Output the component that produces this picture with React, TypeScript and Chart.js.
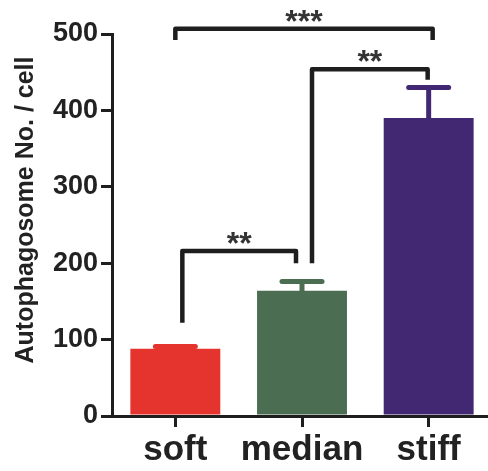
import React, { useEffect, useRef } from "react";
import { Chart, registerables } from "chart.js";

Chart.register(...registerables);

const categories = ["soft", "median", "stiff"];
const means = [88, 164, 390];
const errors = [3, 12, 40];
const barColors = ["#e5332e", "#4b6e53", "#422873"];
const yTicks = [0, 100, 200, 300, 400, 500];
const yTitle = "Autophagosome No. / cell";

const bracketFrom = [0, 1, 0];
const bracketTo = [1, 2, 2];
const bracketTop = [216, 454, 507];
const bracketLeftEnd = [122, 200, 492];
const bracketRightEnd = [200, 440, 492];
const bracketLabels = ["**", "**", "***"];

const FONT = "'Liberation Sans', Arial, sans-serif";
const INK = "#1e1e1e";
// horizontal leg offsets (px) from bar centre for each bracket [left, right]
const LEG_OFFSETS = [
  [7, -6],
  [10, -1],
  [0, 4],
];

const overlayPlugin = {
  id: "overlay",
  afterDatasetsDraw(chart: any) {
    const ctx = chart.ctx;
    const meta = chart.getDatasetMeta(0);
    const y = chart.scales.y;
    ctx.save();
    // error bars
    meta.data.forEach((bar: any, i: number) => {
      const base = y.getPixelForValue(means[i]);
      const top = y.getPixelForValue(means[i] + errors[i]);
      ctx.strokeStyle = barColors[i];
      ctx.lineWidth = 5;
      ctx.lineCap = "round";
      ctx.beginPath();
      ctx.moveTo(bar.x, base);
      ctx.lineTo(bar.x, top);
      ctx.stroke();
      ctx.beginPath();
      ctx.moveTo(bar.x - 20, top);
      ctx.lineTo(bar.x + 20, top);
      ctx.stroke();
    });
    // significance brackets
    bracketFrom.forEach((from, k) => {
      const to = bracketTo[k];
      const xl = meta.data[from].x + LEG_OFFSETS[k][0];
      const xr = meta.data[to].x + LEG_OFFSETS[k][1];
      const yt = y.getPixelForValue(bracketTop[k]);
      const yl = y.getPixelForValue(bracketLeftEnd[k]);
      const yr = y.getPixelForValue(bracketRightEnd[k]);
      ctx.strokeStyle = INK;
      ctx.lineWidth = 4.5;
      ctx.lineCap = "butt";
      ctx.lineJoin = "round";
      ctx.beginPath();
      ctx.moveTo(xl, yl);
      ctx.lineTo(xl, yt);
      ctx.lineTo(xr, yt);
      ctx.lineTo(xr, yr);
      ctx.stroke();
      ctx.fillStyle = "#333";
      ctx.font = `bold 32px ${FONT}`;
      ctx.textAlign = "center";
      ctx.textBaseline = "alphabetic";
      ctx.fillText(bracketLabels[k], (xl + xr) / 2, yt + 3);
    });
    // y axis title
    ctx.translate(33, 210);
    ctx.rotate(-Math.PI / 2);
    ctx.fillStyle = "#222";
    ctx.font = `bold 25px ${FONT}`;
    ctx.textAlign = "center";
    ctx.textBaseline = "alphabetic";
    ctx.fillText(yTitle, 0, 0);
    ctx.restore();
  },
};

export default function App() {
  const ref = useRef<HTMLCanvasElement | null>(null);
  useEffect(() => {
    if (!ref.current) return;
    const chart = new Chart(ref.current, {
      type: "bar",
      data: {
        labels: categories,
        datasets: [
          {
            data: means,
            backgroundColor: barColors,
            borderWidth: 0,
            barPercentage: 0.71,
            categoryPercentage: 1,
          },
        ],
      },
      options: {
        animation: false,
        responsive: false,
        devicePixelRatio: 1,
        layout: { padding: { top: 34, left: 0, right: 0, bottom: 0 } },
        plugins: { legend: { display: false }, tooltip: { enabled: false } },
        scales: {
          x: {
            ticks: {
              font: { family: FONT, size: 35, weight: "bold" },
              color: "#222",
              padding: 2,
              maxRotation: 0,
              minRotation: 0,
              autoSkip: false,
            },
            grid: { drawOnChartArea: false, offset: false, tickLength: 11, lineWidth: 3, color: INK },
            border: { width: 3, color: INK },
            afterFit(s: any) {
              s.height = 55;
            },
          },
          y: {
            min: 0,
            max: 500,
            ticks: { font: { family: FONT, size: 27, weight: "bold" }, color: "#222", padding: 3 },
            grid: { drawOnChartArea: false, tickLength: 11, lineWidth: 3, color: INK },
            border: { width: 3, color: INK },
            afterBuildTicks(s: any) {
              s.ticks = yTicks.map((v) => ({ value: v }));
            },
            afterFit(s: any) {
              s.width = 112;
            },
          },
        },
      },
      plugins: [overlayPlugin],
    });
    return () => chart.destroy();
  }, []);
  return (
    <div
      style={{
        position: "fixed",
        left: 0,
        top: 0,
        width: 488,
        height: 471,
        overflow: "hidden",
        background: "#fff",
      }}
    >
      <canvas ref={ref} width={492} height={471} style={{ display: "block" }} />
    </div>
  );
}
